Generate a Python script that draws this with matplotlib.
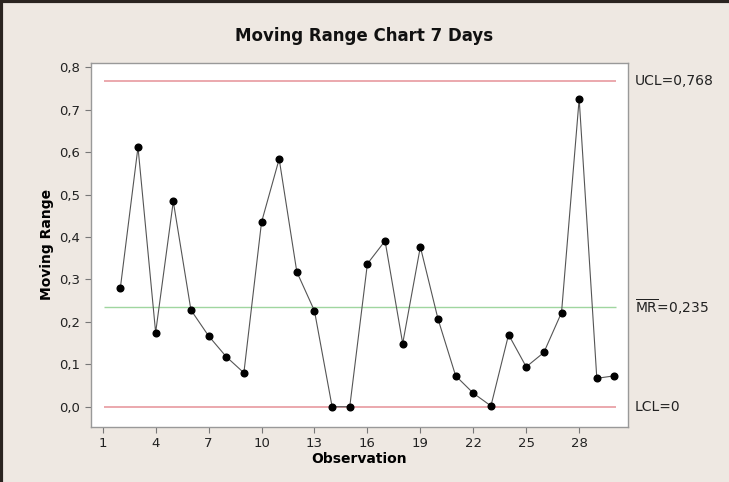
import numpy as np
import matplotlib.pyplot as plt
from matplotlib.lines import Line2D
from matplotlib.transforms import blended_transform_factory
from matplotlib.ticker import FuncFormatter

# Moving range values, observations 2..30 (first observation has no range)
obs = list(range(2, 31))
mr = [0.280, 0.612, 0.175, 0.484, 0.228, 0.167, 0.118, 0.080, 0.435, 0.584,
      0.318, 0.226, 0.000, 0.000, 0.337, 0.391, 0.149, 0.377, 0.207, 0.073,
      0.032, 0.002, 0.170, 0.094, 0.128, 0.222, 0.726, 0.067, 0.073]

ucl = 0.768
mr_bar = 0.235
lcl = 0.0

xticks = [1, 4, 7, 10, 13, 16, 19, 22, 25, 28]
yticks = [0.0, 0.1, 0.2, 0.3, 0.4, 0.5, 0.6, 0.7, 0.8]

bg = "#eee8e2"

fig = plt.figure(figsize=(7.29, 4.82), dpi=100, facecolor=bg)
ax = fig.add_axes([90.7 / 729, 1 - 426.7 / 482, (627.7 - 90.7) / 729, (426.7 - 62.7) / 482])
ax.set_facecolor("white")

# control limits
ax.hlines(ucl, 1.1, 30.1, color="#e89aa0", lw=1.2)
ax.hlines(mr_bar, 1.1, 30.1, color="#9fd69f", lw=1.0)
ax.hlines(lcl, 1.1, 30.1, color="#e89aa0", lw=1.2)

ax.plot(obs, mr, color="#555555", lw=0.8, marker="o", markersize=4.8,
        markerfacecolor="black", markeredgecolor="black")

ax.set_xlim(0.32, 30.75)
ax.set_ylim(-0.047, 0.811)
ax.set_xticks(xticks)
ax.set_yticks(yticks)
ax.yaxis.set_major_formatter(FuncFormatter(lambda v, p: f"{v:.1f}".replace(".", ",")))
ax.tick_params(direction="out", length=4, width=0.8, color="#777777",
               labelsize=9.5, labelcolor="#222222")
for s in ax.spines.values():
    s.set_color("#999999")
    s.set_linewidth(1.0)

ax.set_xlabel("Observation", fontsize=10, fontweight="bold", labelpad=1)
ax.set_ylabel("Moving Range", fontsize=10, fontweight="bold", labelpad=4)
fig.text(0.5, 1 - 36 / 482, "Moving Range Chart 7 Days", ha="center", va="center",
         fontsize=12, fontweight="bold", color="#111111")

# limit labels on the right of the plot area
tr = blended_transform_factory(fig.transFigure, ax.transData)
tx = 635 / 729
ax.text(tx, ucl, "UCL=0,768", transform=tr, va="center", fontsize=10, color="#222222")
ax.text(tx, mr_bar, r"$\mathregular{\overline{MR}}$=0,235", transform=tr, va="center",
        fontsize=10, color="#222222")
ax.text(tx, lcl, "LCL=0", transform=tr, va="center", fontsize=10, color="#222222")

# dark screenshot frame on the left and top
fig.add_artist(Line2D([0.002, 0.002], [0, 1], transform=fig.transFigure, color="#2a2420", lw=3))
fig.add_artist(Line2D([0, 1], [0.997, 0.997], transform=fig.transFigure, color="#2a2420", lw=3))

fig.savefig("out.png", dpi=100, facecolor=bg)
